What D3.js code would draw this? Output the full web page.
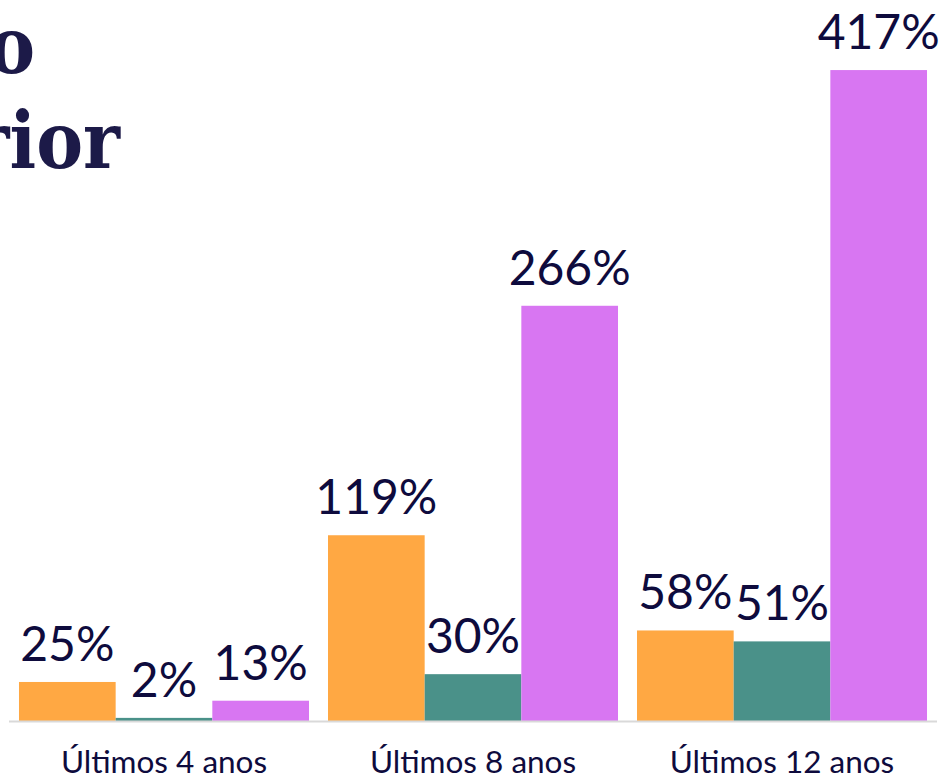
<!DOCTYPE html>
<html>
<head>
<meta charset="utf-8">
<script src="https://cdn.jsdelivr.net/npm/d3@7"></script>
<style>
  html, body { margin: 0; padding: 0; background: #fff; }
  svg { display: block; }
</style>
</head>
<body>
<div id="chart"></div>
<script>
// data
var categories = ["Últimos 4 anos", "Últimos 8 anos", "Últimos 12 anos"];
var series = ["s1", "s2", "s3"];
var values1 = [25, 119, 58];
var values2 = [2, 30, 51];
var values3 = [13, 266, 417];
var titleLines = ["o", "rior"];

var colors = ["#ffa843", "#4a9189", "#d876f2"];
var allValues = [values1, values2, values3];

var width = 942, height = 777;

var svg = d3.select("#chart").append("svg")
    .attr("width", width)
    .attr("height", height);

// title (cut off at the left edge)
svg.append("text")
    .attr("x", 35)
    .attr("y", 73)
    .attr("text-anchor", "end")
    .attr("font-family", "DejaVu Serif Condensed, DejaVu Serif")
    .attr("font-weight", "bold")
    .attr("font-size", 78)
    .attr("fill", "#1c1a48")
    .text(titleLines[0]);

svg.append("text")
    .attr("x", 120)
    .attr("y", 168)
    .attr("text-anchor", "end")
    .attr("font-family", "DejaVu Serif Condensed, DejaVu Serif")
    .attr("font-weight", "bold")
    .attr("font-size", 78)
    .attr("fill", "#1c1a48")
    .text(titleLines[1]);

var x0 = d3.scaleBand()
    .domain(categories)
    .range([9.5, 936.5])
    .paddingInner(0.0615)
    .paddingOuter(0.0307);

var x1 = d3.scaleBand()
    .domain(series)
    .range([0, x0.bandwidth()]);

var y = d3.scaleLinear()
    .domain([0, 450])
    .range([721, 721 - 450 * 1.561]);

var rows = categories.map(function (c, i) {
    return series.map(function (s, j) {
        return { cat: c, key: s, value: allValues[j][i], color: colors[j] };
    });
});

var groups = svg.selectAll("g.group")
    .data(rows)
    .enter().append("g")
    .attr("class", "group")
    .attr("transform", function (d, i) { return "translate(" + x0(categories[i]) + ",0)"; });

groups.selectAll("rect")
    .data(function (d) { return d; })
    .enter().append("rect")
    .attr("x", function (d) { return x1(d.key); })
    .attr("y", function (d) { return y(d.value); })
    .attr("width", x1.bandwidth())
    .attr("height", function (d) { return y(0) - y(d.value); })
    .attr("fill", function (d) { return d.color; });

groups.selectAll("text")
    .data(function (d) { return d; })
    .enter().append("text")
    .attr("x", function (d) { return x1(d.key) + x1.bandwidth() / 2; })
    .attr("y", function (d) { return y(d.value) - 21; })
    .attr("text-anchor", "middle")
    .attr("font-family", "Lato")
    .attr("font-size", 48)
    .attr("fill", "#0e0b3d")
    .text(function (d) { return d.value + "%"; });

// baseline
svg.append("line")
    .attr("x1", 9)
    .attr("x2", 937)
    .attr("y1", 721.5)
    .attr("y2", 721.5)
    .attr("stroke", "#d9d9d9")
    .attr("stroke-width", 2);

// category labels
var xAxis = svg.append("g")
    .attr("transform", "translate(0,721)")
    .call(d3.axisBottom(x0).tickSize(0).tickPadding(0));

xAxis.select(".domain").remove();
xAxis.selectAll("text")
    .attr("y", 52)
    .attr("dy", null)
    .attr("font-family", "Lato")
    .attr("font-size", 31.5)
    .attr("fill", "#0e0b3d");
</script>
</body>
</html>
